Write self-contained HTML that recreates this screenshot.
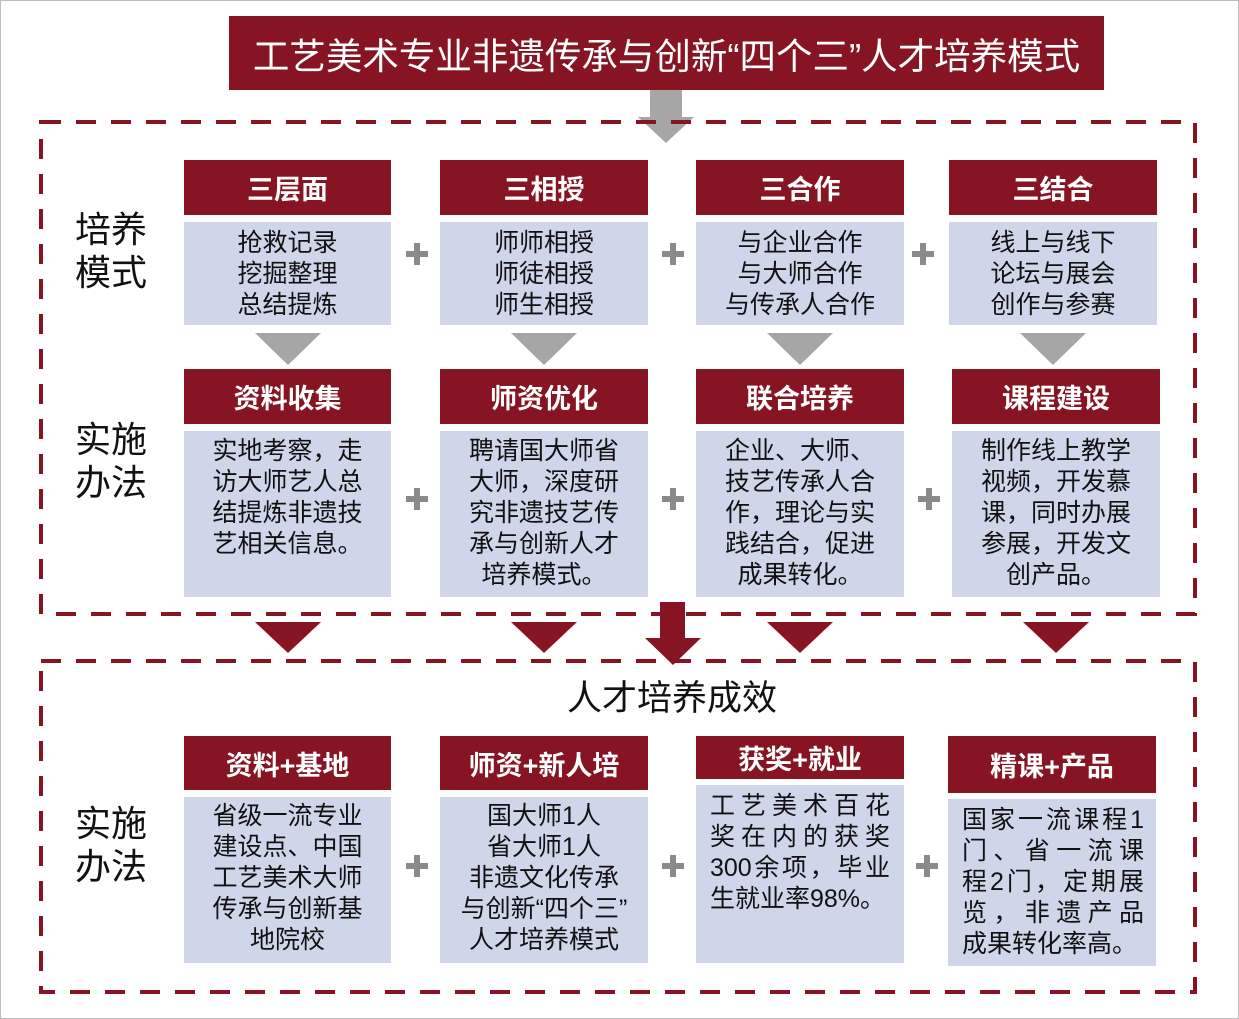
<!DOCTYPE html>
<html><head><meta charset="utf-8"><style>
body{margin:0;width:1239px;height:1019px;position:relative;background:#fff;font-family:"Liberation Sans","Noto Sans CJK SC",sans-serif;overflow:hidden}
.a{position:absolute}
.frame{left:0;top:0;width:1237px;height:1017px;border:1px solid #bdbdbd}
.h{position:absolute;background:#861423;color:#fff;font-weight:bold;font-size:27px;display:flex;align-items:center;justify-content:center}
.b{position:absolute;background:#cfd6ea;color:#111;font-size:25px;line-height:31px;text-align:center;box-sizing:border-box}
.j div{text-align:justify;text-align-last:justify}
.pl{position:absolute;width:22px;height:22px}
.pl:before{content:"";position:absolute;left:8px;top:0;width:6px;height:22px;background:#8a8a8a}
.pl:after{content:"";position:absolute;left:0;top:8px;width:22px;height:6px;background:#8a8a8a}
.side{position:absolute;font-size:36px;line-height:43px;color:#111}
.tri{position:absolute;width:0;height:0;border-left:33px solid transparent;border-right:33px solid transparent;border-top:31px solid #861423}
.gt{position:absolute;width:0;height:0;border-left:33px solid transparent;border-right:33px solid transparent;border-top:32px solid #a6a6a6}
</style></head><body>
<div class="a frame"></div>
<div class="h" style="left:229px;top:16px;width:875px;height:74px;font-weight:normal;font-size:36.5px">工艺美术专业非遗传承与创新“四个三”人才培养模式</div>
<div class="a" style="left:650px;top:90px;width:32px;height:28px;background:#a6a6a6"></div>
<div class="a" style="left:638px;top:117px;width:0;height:0;border-left:28px solid transparent;border-right:28px solid transparent;border-top:26px solid #a6a6a6"></div>
<svg class="a" style="left:0;top:0" width="1239" height="1019">
<g fill="none" stroke="#861423" stroke-width="4" stroke-dasharray="20 15">
<rect x="41" y="122" width="1154" height="492"/>
<rect x="41" y="661" width="1154" height="331"/>
</g></svg>
<div class="side" style="left:75px;top:208px">培养<br>模式</div>
<div class="side" style="left:75px;top:418px">实施<br>办法</div>
<div class="side" style="left:75px;top:802px">实施<br>办法</div>

<div class="h" style="left:184px;top:160px;width:207px;height:55px">三层面</div>
<div class="h" style="left:440px;top:160px;width:208px;height:55px">三相授</div>
<div class="h" style="left:696px;top:160px;width:208px;height:55px">三合作</div>
<div class="h" style="left:949px;top:160px;width:208px;height:55px">三结合</div>
<div class="b" style="left:184px;top:222px;width:207px;height:103px;padding-top:6px">抢救记录<br>挖掘整理<br>总结提炼</div>
<div class="b" style="left:440px;top:222px;width:208px;height:103px;padding-top:6px">师师相授<br>师徒相授<br>师生相授</div>
<div class="b" style="left:696px;top:222px;width:208px;height:103px;padding-top:6px">与企业合作<br>与大师合作<br>与传承人合作</div>
<div class="b" style="left:949px;top:222px;width:208px;height:103px;padding-top:6px">线上与线下<br>论坛与展会<br>创作与参赛</div>
<div class="pl" style="left:406px;top:243px"></div><div class="pl" style="left:662px;top:243px"></div><div class="pl" style="left:912px;top:243px"></div>
<div class="gt" style="left:255px;top:333px"></div><div class="gt" style="left:511px;top:333px"></div><div class="gt" style="left:767px;top:333px"></div><div class="gt" style="left:1020px;top:333px"></div>

<div class="h" style="left:184px;top:369px;width:207px;height:55px">资料收集</div>
<div class="h" style="left:440px;top:369px;width:208px;height:55px">师资优化</div>
<div class="h" style="left:696px;top:369px;width:208px;height:55px">联合培养</div>
<div class="h" style="left:952px;top:369px;width:208px;height:55px">课程建设</div>
<div class="b" style="left:184px;top:431px;width:207px;height:166px;padding:5px 20px 0">实地考察，走访大师艺人总结提炼非遗技艺相关信息。</div>
<div class="b" style="left:440px;top:431px;width:208px;height:166px;padding:5px 20px 0">聘请国大师省大师，深度研究非遗技艺传承与创新人才培养模式。</div>
<div class="b" style="left:696px;top:431px;width:208px;height:166px;padding:5px 20px 0">企业、大师、技艺传承人合作，理论与实践结合，促进成果转化。</div>
<div class="b" style="left:952px;top:431px;width:208px;height:166px;padding:5px 20px 0">制作线上教学视频，开发慕课，同时办展参展，开发文创产品。</div>
<div class="pl" style="left:406px;top:488px"></div><div class="pl" style="left:662px;top:488px"></div><div class="pl" style="left:918px;top:488px"></div>

<div class="tri" style="left:255px;top:622px"></div><div class="tri" style="left:511px;top:622px"></div><div class="tri" style="left:767px;top:622px"></div><div class="tri" style="left:1023px;top:622px"></div>
<div class="a" style="left:660px;top:602px;width:25px;height:40px;background:#861423"></div>
<div class="a" style="left:645px;top:638px;width:0;height:0;border-left:28px solid transparent;border-right:28px solid transparent;border-top:27px solid #861423"></div>

<div class="a" style="left:472px;width:400px;top:670px;text-align:center;font-size:35px;color:#111">人才培养成效</div>

<div class="h" style="left:184px;top:736px;width:207px;height:54px">资料+基地</div>
<div class="h" style="left:440px;top:736px;width:208px;height:54px">师资+新人培</div>
<div class="h" style="left:696px;top:736px;width:208px;height:43px">获奖+就业</div>
<div class="h" style="left:948px;top:736px;width:208px;height:57px">精课+产品</div>
<div class="b" style="left:184px;top:797px;width:207px;height:166px;padding:4px 20px 0">省级一流专业<br>建设点、中国<br>工艺美术大师<br>传承与创新基<br>地院校</div>
<div class="b" style="left:440px;top:797px;width:208px;height:166px;padding:4px 0 0">国大师1人<br>省大师1人<br>非遗文化传承<br>与创新“四个三”<br>人才培养模式</div>
<div class="b j" style="left:696px;top:785px;width:208px;height:178px;padding:6px 14px 0 14px;text-align:left"><div>工艺美术百花</div><div>奖在内的获奖</div><div>300余项，毕业</div><div style="text-align-last:left">生就业率98%。</div></div>
<div class="b j" style="left:948px;top:799px;width:208px;height:167px;padding:6px 12px 0 14px;text-align:left"><div>国家一流课程1</div><div>门、省一流课</div><div>程2门，定期展</div><div>览，非遗产品</div><div style="text-align-last:left">成果转化率高。</div></div>
<div class="pl" style="left:406px;top:855px"></div><div class="pl" style="left:662px;top:855px"></div><div class="pl" style="left:916px;top:855px"></div>
</body></html>
